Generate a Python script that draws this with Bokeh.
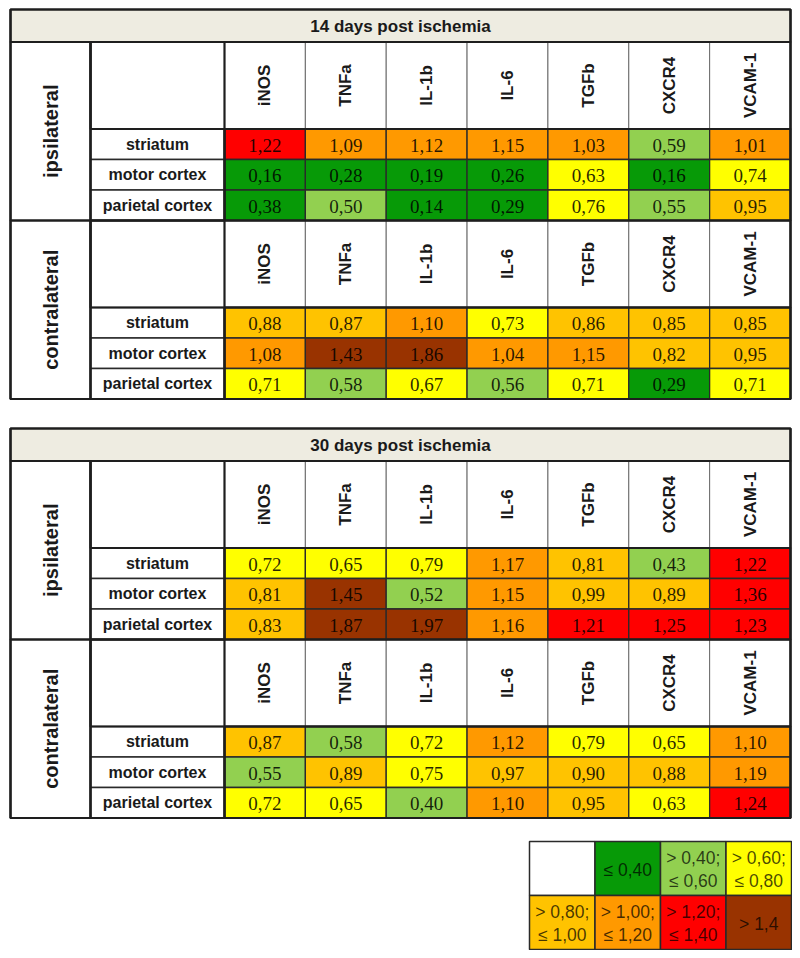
import math
from bokeh.plotting import figure
from bokeh.models import Range1d, ColumnDataSource
from bokeh.embed import file_html
from bokeh.resources import INLINE
from bokeh.core.properties import value

# ---------------- data ----------------
titles = ["14 days post ischemia", "30 days post ischemia"]
sides = ["ipsilateral", "contralateral"]
genes = ["iNOS", "TNFa", "IL-1b", "IL-6", "TGFb", "CXCR4", "VCAM-1"]
regions = ["striatum", "motor cortex", "parietal cortex"]

d14_ipsi = [[1.22, 1.09, 1.12, 1.15, 1.03, 0.59, 1.01],
            [0.16, 0.28, 0.19, 0.26, 0.63, 0.16, 0.74],
            [0.38, 0.50, 0.14, 0.29, 0.76, 0.55, 0.95]]
d14_contra = [[0.88, 0.87, 1.10, 0.73, 0.86, 0.85, 0.85],
              [1.08, 1.43, 1.86, 1.04, 1.15, 0.82, 0.95],
              [0.71, 0.58, 0.67, 0.56, 0.71, 0.29, 0.71]]
d30_ipsi = [[0.72, 0.65, 0.79, 1.17, 0.81, 0.43, 1.22],
            [0.81, 1.45, 0.52, 1.15, 0.99, 0.89, 1.36],
            [0.83, 1.87, 1.97, 1.16, 1.21, 1.25, 1.23]]
d30_contra = [[0.87, 0.58, 0.72, 1.12, 0.79, 0.65, 1.10],
              [0.55, 0.89, 0.75, 0.97, 0.90, 0.88, 1.19],
              [0.72, 0.65, 0.404, 1.10, 0.95, 0.63, 1.24]]
tables = [[d14_ipsi, d14_contra], [d30_ipsi, d30_contra]]

bin_edges = [0.40, 0.60, 0.80, 1.00, 1.20, 1.40]
bin_colors = ["#079A07", "#92D050", "#FFFF00", "#FFC300", "#FF9900", "#FF0000", "#993300"]
legend_fill = ["#FFFFFF"] + bin_colors
legend_top = ["", "", "> 0,40;", "> 0,60;", "> 0,80;", "> 1,00;", "> 1,20;", ""]
legend_bot = ["", "", "\u2264 0,60", "\u2264 0,80", "\u2264 1,00", "\u2264 1,20", "\u2264 1,40", ""]
legend_one = ["", "\u2264 0,40", "", "", "", "", "", "> 1,4"]

# ---------------- layout ----------------
W, H = 792, 950
X0, X1, X2, X3 = 10, 90, 224, 790
TITLE_H, HEAD_H, ROW_H = 32.5, 87, 30.5
TABLE_TOPS = [9, 428]
LEG_X0, LEG_X1, LEG_Y0, LEG_H, LEG_COLS = 529, 791, 841, 54, 4
COL_W = (X3 - X2) / len(genes)
SEC_H = HEAD_H + ROW_H * len(regions)

def bin_color(v):
    for e, c in zip(bin_edges, bin_colors):
        if v <= e:
            return c
    return bin_colors[-1]

def fmt(v):
    return f"{v:.2f}".replace(".", ",")

p = figure(width=W, height=H, x_range=Range1d(0, W), y_range=Range1d(H, 0),
           output_backend="svg", toolbar_location=None, min_border=0)
p.axis.visible = False
p.grid.visible = False
p.outline_line_color = None
p.background_fill_color = "white"

title_q = dict(l=[], r=[], t=[], b=[])
title_t = dict(x=[], y=[], s=[])
cell_q = dict(l=[], r=[], t=[], b=[], c=[])
val_t = dict(x=[], y=[], s=[])
head_q = dict(l=[], r=[], t=[], b=[])
gene_t = dict(x=[], y=[], s=[])
reg_q = dict(l=[], r=[], t=[], b=[])
reg_t = dict(x=[], y=[], s=[])
side_t = dict(x=[], y=[], s=[])
thick = dict(l=[], r=[], t=[], b=[])

for ti, top in enumerate(TABLE_TOPS):
    title_q["l"].append(X0); title_q["r"].append(X3)
    title_q["t"].append(top); title_q["b"].append(top + TITLE_H)
    title_t["x"].append((X0 + X3) / 2); title_t["y"].append(top + TITLE_H / 2 + 1)
    title_t["s"].append(titles[ti])
    thick["l"].append(X0); thick["r"].append(X3)
    thick["t"].append(top); thick["b"].append(top + TITLE_H + 2 * SEC_H)
    thick["l"].append(X0); thick["r"].append(X3)
    thick["t"].append(top); thick["b"].append(top + TITLE_H)
    for si in range(2):
        s0 = top + TITLE_H + si * SEC_H
        data = tables[ti][si]
        side_t["x"].append((X0 + X1) / 2); side_t["y"].append(s0 + SEC_H / 2)
        side_t["s"].append(sides[si])
        thick["l"].append(X0); thick["r"].append(X1)
        thick["t"].append(s0); thick["b"].append(s0 + SEC_H)
        thick["l"].append(X1); thick["r"].append(X2)
        thick["t"].append(s0); thick["b"].append(s0 + SEC_H)
        thick["l"].append(X1); thick["r"].append(X3)
        thick["t"].append(s0); thick["b"].append(s0 + HEAD_H)
        thick["l"].append(X2); thick["r"].append(X3)
        thick["t"].append(s0 + HEAD_H); thick["b"].append(s0 + SEC_H)
        for gi, g in enumerate(genes):
            l = X2 + gi * COL_W
            head_q["l"].append(l); head_q["r"].append(l + COL_W)
            head_q["t"].append(s0); head_q["b"].append(s0 + HEAD_H)
            gene_t["x"].append(l + COL_W / 2); gene_t["y"].append(s0 + HEAD_H / 2)
            gene_t["s"].append(g)
        for ri, rname in enumerate(regions):
            rt = s0 + HEAD_H + ri * ROW_H
            reg_q["l"].append(X1); reg_q["r"].append(X2)
            reg_q["t"].append(rt); reg_q["b"].append(rt + ROW_H)
            reg_t["x"].append((X1 + X2) / 2); reg_t["y"].append(rt + ROW_H / 2)
            reg_t["s"].append(rname)
            for gi in range(len(genes)):
                v = data[ri][gi]
                l = X2 + gi * COL_W
                cell_q["l"].append(l); cell_q["r"].append(l + COL_W)
                cell_q["t"].append(rt); cell_q["b"].append(rt + ROW_H)
                cell_q["c"].append(bin_color(v))
                val_t["x"].append(l + COL_W / 2); val_t["y"].append(rt + ROW_H / 2 + 1)
                val_t["s"].append(fmt(v))

p.quad(left="l", right="r", top="t", bottom="b", source=ColumnDataSource(title_q),
       fill_color="#EEECE1", line_color=None)
p.quad(left="l", right="r", top="t", bottom="b", source=ColumnDataSource(head_q),
       fill_color="white", line_color="#6a6a6a", line_width=1)
p.quad(left="l", right="r", top="t", bottom="b", source=ColumnDataSource(cell_q),
       fill_color="c", line_color="#2a2a2a", line_width=1.3)
p.quad(left="l", right="r", top="t", bottom="b", source=ColumnDataSource(reg_q),
       fill_color="white", line_color="#2a2a2a", line_width=1.5)
p.quad(left="l", right="r", top="t", bottom="b", source=ColumnDataSource(thick),
       fill_alpha=0, line_color="#1e1e1e", line_width=2.2)

p.text(x="x", y="y", text="s", source=ColumnDataSource(title_t),
       text_font=value("Liberation Sans"), text_font_style="bold", text_font_size="17px",
       text_align="center", text_baseline="middle", text_color="#1a1a1a")
p.text(x="x", y="y", text="s", source=ColumnDataSource(side_t), angle=math.pi / 2,
       text_font=value("Liberation Sans"), text_font_style="bold", text_font_size="20px",
       text_align="center", text_baseline="middle", text_color="#1a1a1a")
p.text(x="x", y="y", text="s", source=ColumnDataSource(gene_t), angle=math.pi / 2,
       text_font=value("Liberation Sans"), text_font_style="bold", text_font_size="17px",
       text_align="center", text_baseline="middle", text_color="#1a1a1a")
p.text(x="x", y="y", text="s", source=ColumnDataSource(reg_t),
       text_font=value("Liberation Sans"), text_font_style="bold", text_font_size="16px",
       text_align="center", text_baseline="middle", text_color="#1a1a1a")
p.text(x="x", y="y", text="s", source=ColumnDataSource(val_t),
       text_font=value("Liberation Serif"), text_font_size="19px",
       text_align="center", text_baseline="middle", text_color="#000000", text_alpha=0.85)

# ---------------- legend ----------------
LW = (LEG_X1 - LEG_X0) / LEG_COLS
leg_q = dict(l=[], r=[], t=[], b=[], c=[])
leg_a = dict(x=[], y=[], s=[])
leg_b = dict(x=[], y=[], s=[])
leg_c = dict(x=[], y=[], s=[])
for i, c in enumerate(legend_fill):
    row, col = divmod(i, LEG_COLS)
    l = LEG_X0 + col * LW
    t = LEG_Y0 + row * LEG_H
    leg_q["l"].append(l); leg_q["r"].append(l + LW)
    leg_q["t"].append(t); leg_q["b"].append(t + LEG_H); leg_q["c"].append(c)
    cx, cy = l + LW / 2, t + LEG_H / 2
    leg_a["x"].append(cx); leg_a["y"].append(cy - 11); leg_a["s"].append(legend_top[i])
    leg_b["x"].append(cx); leg_b["y"].append(cy + 12); leg_b["s"].append(legend_bot[i])
    leg_c["x"].append(cx); leg_c["y"].append(cy + 1); leg_c["s"].append(legend_one[i])

p.quad(left="l", right="r", top="t", bottom="b", source=ColumnDataSource(leg_q),
       fill_color="c", line_color="#2a2a2a", line_width=1.5)
for src in (leg_a, leg_b, leg_c):
    p.text(x="x", y="y", text="s", source=ColumnDataSource(src),
           text_font=value("Liberation Sans"), text_font_size="17.5px",
           text_align="center", text_baseline="middle", text_color="#000000", text_alpha=0.72)

open("out.html", "w").write(file_html(p, INLINE))
